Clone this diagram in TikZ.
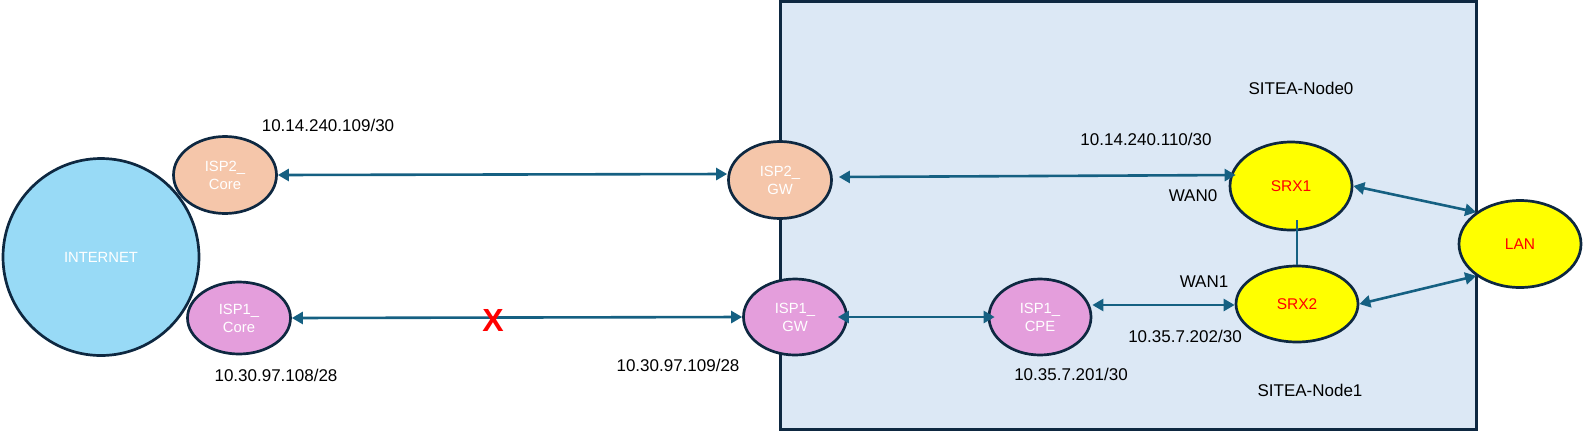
\documentclass[tikz,border=0pt]{standalone}
\usepackage{fontspec}
\setmainfont{Liberation Sans}
\usetikzlibrary{arrows.meta,shapes.geometric,calc}
\definecolor{navy}{HTML}{0E2841}
\definecolor{linkc}{HTML}{156082}
\definecolor{sitebg}{HTML}{DCE8F5}
\definecolor{inetc}{HTML}{98DAF6}
\definecolor{isptwo}{HTML}{F5C6AA}
\definecolor{ispone}{HTML}{E49EDC}
\definecolor{srxc}{HTML}{FFFF00}
\begin{document}
\begin{tikzpicture}[x=1pt,y=-1pt,
  ell/.style={ellipse, draw=navy, line width=2.7pt, inner sep=0pt, align=center,
    text=white, font=\fontsize{14.8}{18}\selectfont},
  dev/.style={ell, fill=srxc, text=red, font=\fontsize{15.5}{18}\selectfont},
  lbl/.style={font=\fontsize{17}{20}\selectfont, text=black, inner sep=0pt},
  conn/.style={draw=linkc, line width=2.6pt, {Triangle[length=11pt,width=12pt]}-{Triangle[length=11pt,width=12pt]}},
  plain/.style={draw=linkc, line width=2.6pt}
]
\useasboundingbox (0,0) rectangle (1584,432);
\draw[navy, line width=3pt, fill=sitebg] (780.5,1.5) rectangle (1476.5,429);

\node[ell, fill=inetc, minimum width=196pt, minimum height=197pt] (inet) at (101,257) {INTERNET};
\node[ell, fill=isptwo, minimum width=103pt, minimum height=77pt] (isp2c) at (225,175) {ISP2\_\\Core};
\node[ell, fill=ispone, minimum width=103pt, minimum height=72pt] (isp1c) at (239,318) {ISP1\_\\Core};
\node[ell, fill=isptwo, minimum width=103pt, minimum height=77pt] (isp2gw) at (780,180) {ISP2\_\\GW};
\node[ell, fill=ispone, minimum width=103pt, minimum height=76pt] (isp1gw) at (795,317) {ISP1\_\\GW};
\node[ell, fill=ispone, minimum width=102pt, minimum height=76pt] (isp1cpe) at (1040,317) {ISP1\_\\CPE};
\node[dev, minimum width=122pt, minimum height=88pt] (srx1) at (1291,186) {SRX1};
\node[dev, minimum width=122pt, minimum height=76pt] (srx2) at (1297,304) {SRX2};
\node[dev, minimum width=122pt, minimum height=87pt] (lan) at (1520,244) {LAN};

\node[lbl] (l1) at (328,125) {10.14.240.109/30};
\node[lbl] (l2) at (276,375) {10.30.97.108/28};
\node[lbl] (l3) at (678,365) {10.30.97.109/28};
\node[lbl] (l4) at (1146,139) {10.14.240.110/30};
\node[lbl] (n0) at (1301,88) {SITEA-Node0};
\node[lbl] (w0) at (1193,196) {WAN0};
\node[lbl] (w1) at (1204,282) {WAN1};
\node[lbl] (l5) at (1185,336) {10.35.7.202/30};
\node[lbl] (l6) at (1071,374) {10.35.7.201/30};
\node[lbl] (n1) at (1310,390) {SITEA-Node1};

\draw[conn] (isp2c.east) -- ($(isp2gw.west)+(0,-6)$);
\draw[conn] ($(isp2gw.east)+(6,-3)$) -- ($(srx1.west)+(7,-11)$);
\draw[conn] (isp1c.east) -- (isp1gw.west);
\draw[conn] ($(isp1gw.east)+(-10,0)$) -- ($(isp1cpe.west)+(7,0)$);
\draw[conn] ($(isp1cpe.east)+(0,-12)$) -- ($(srx2.west)+(0,1)$);
\draw[conn] (srx1.east) -- (lan.144);
\draw[conn] (srx2.east) -- (lan.216);
\draw[plain] ($(srx1.south -| srx2.north)+(0,-11)$) -- (srx2.north);

\node[text=red, font=\bfseries\fontsize{32}{32}\selectfont, inner sep=0pt] (xmark) at (493,320) {X};
\end{tikzpicture}
\end{document}
